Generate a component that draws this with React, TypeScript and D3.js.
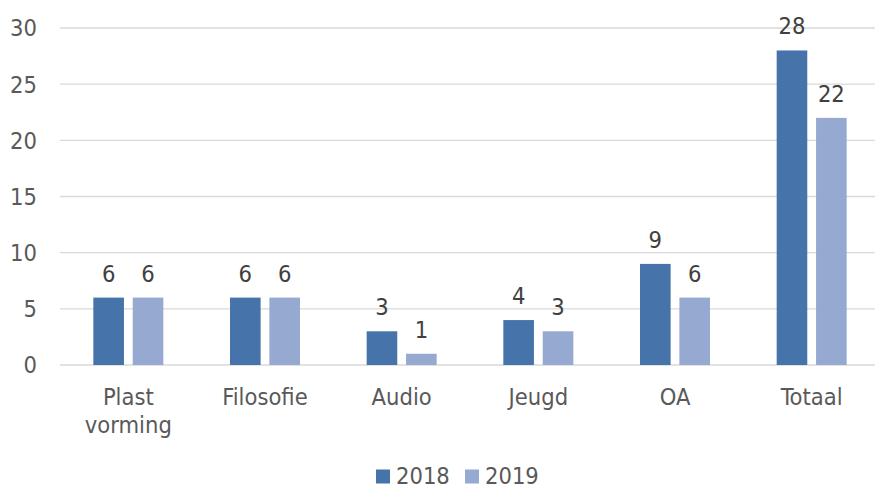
import React from "react";
import * as d3 from "d3";

const categories = ["Plast vorming", "Filosofie", "Audio", "Jeugd", "OA", "Totaal"];
const categoryLines = [["Plast", "vorming"], ["Filosofie"], ["Audio"], ["Jeugd"], ["OA"], ["Totaal"]];
const seriesNames = ["2018", "2019"];
const values2018 = [6, 6, 3, 4, 9, 28];
const values2019 = [6, 6, 1, 3, 6, 22];
const yTicks = [0, 5, 10, 15, 20, 25, 30];
const colors = ["#4673A9", "#95A9D1"];

const W = 875;
const H = 489;
const FONT = "'DejaVu Sans Condensed', 'DejaVu Sans', sans-serif";

export default function App() {
  const x = d3.scaleBand<string>().domain(categories).range([60, 880]).padding(0);
  const inner = d3.scaleBand<string>().domain(seriesNames).range([-35, 35]).paddingInner(0.223);
  const y = d3.scaleLinear().domain([0, 30]).range([365, 28]);
  const series = [values2018, values2019];

  return (
    <svg width={W} height={H} style={{ position: "absolute", left: 0, top: 0, fontFamily: FONT, fontStretch: "condensed" }}>
      {yTicks.map((t) => (
        <g key={t}>
          <line x1={60} x2={875} y1={y(t)} y2={y(t)} stroke="#D9D9D9" strokeWidth={1.3} />
          <text x={37} y={y(t)} dy="0.36em" textAnchor="end" fontSize={23.5} fill="#595959">
            {t}
          </text>
        </g>
      ))}
      {categories.map((c, ci) => {
        const cx = (x(c) as number) + x.bandwidth() / 2;
        return (
          <g key={c}>
            {series.map((vals, si) => {
              const bx = cx + (inner(seriesNames[si]) as number);
              const v = vals[ci];
              return (
                <g key={si}>
                  <rect x={bx} y={y(v)} width={inner.bandwidth()} height={y(0) - y(v)} fill={colors[si]} />
                  <text x={bx + inner.bandwidth() / 2} y={y(v) - 16} textAnchor="middle" fontSize={23.5} fill="#404040">
                    {v}
                  </text>
                </g>
              );
            })}
            {categoryLines[ci].map((line, li) => (
              <text key={li} x={cx} y={405 + li * 28} textAnchor="middle" fontSize={23.5} fill="#595959">
                {line}
              </text>
            ))}
          </g>
        );
      })}
      {seriesNames.map((s, i) => {
        const lx = 376 + i * 89;
        return (
          <g key={s}>
            <rect x={lx} y={469.5} width={14} height={14} fill={colors[i]} />
            <text x={lx + 20} y={484} fontSize={23.5} fill="#595959">
              {s}
            </text>
          </g>
        );
      })}
    </svg>
  );
}
